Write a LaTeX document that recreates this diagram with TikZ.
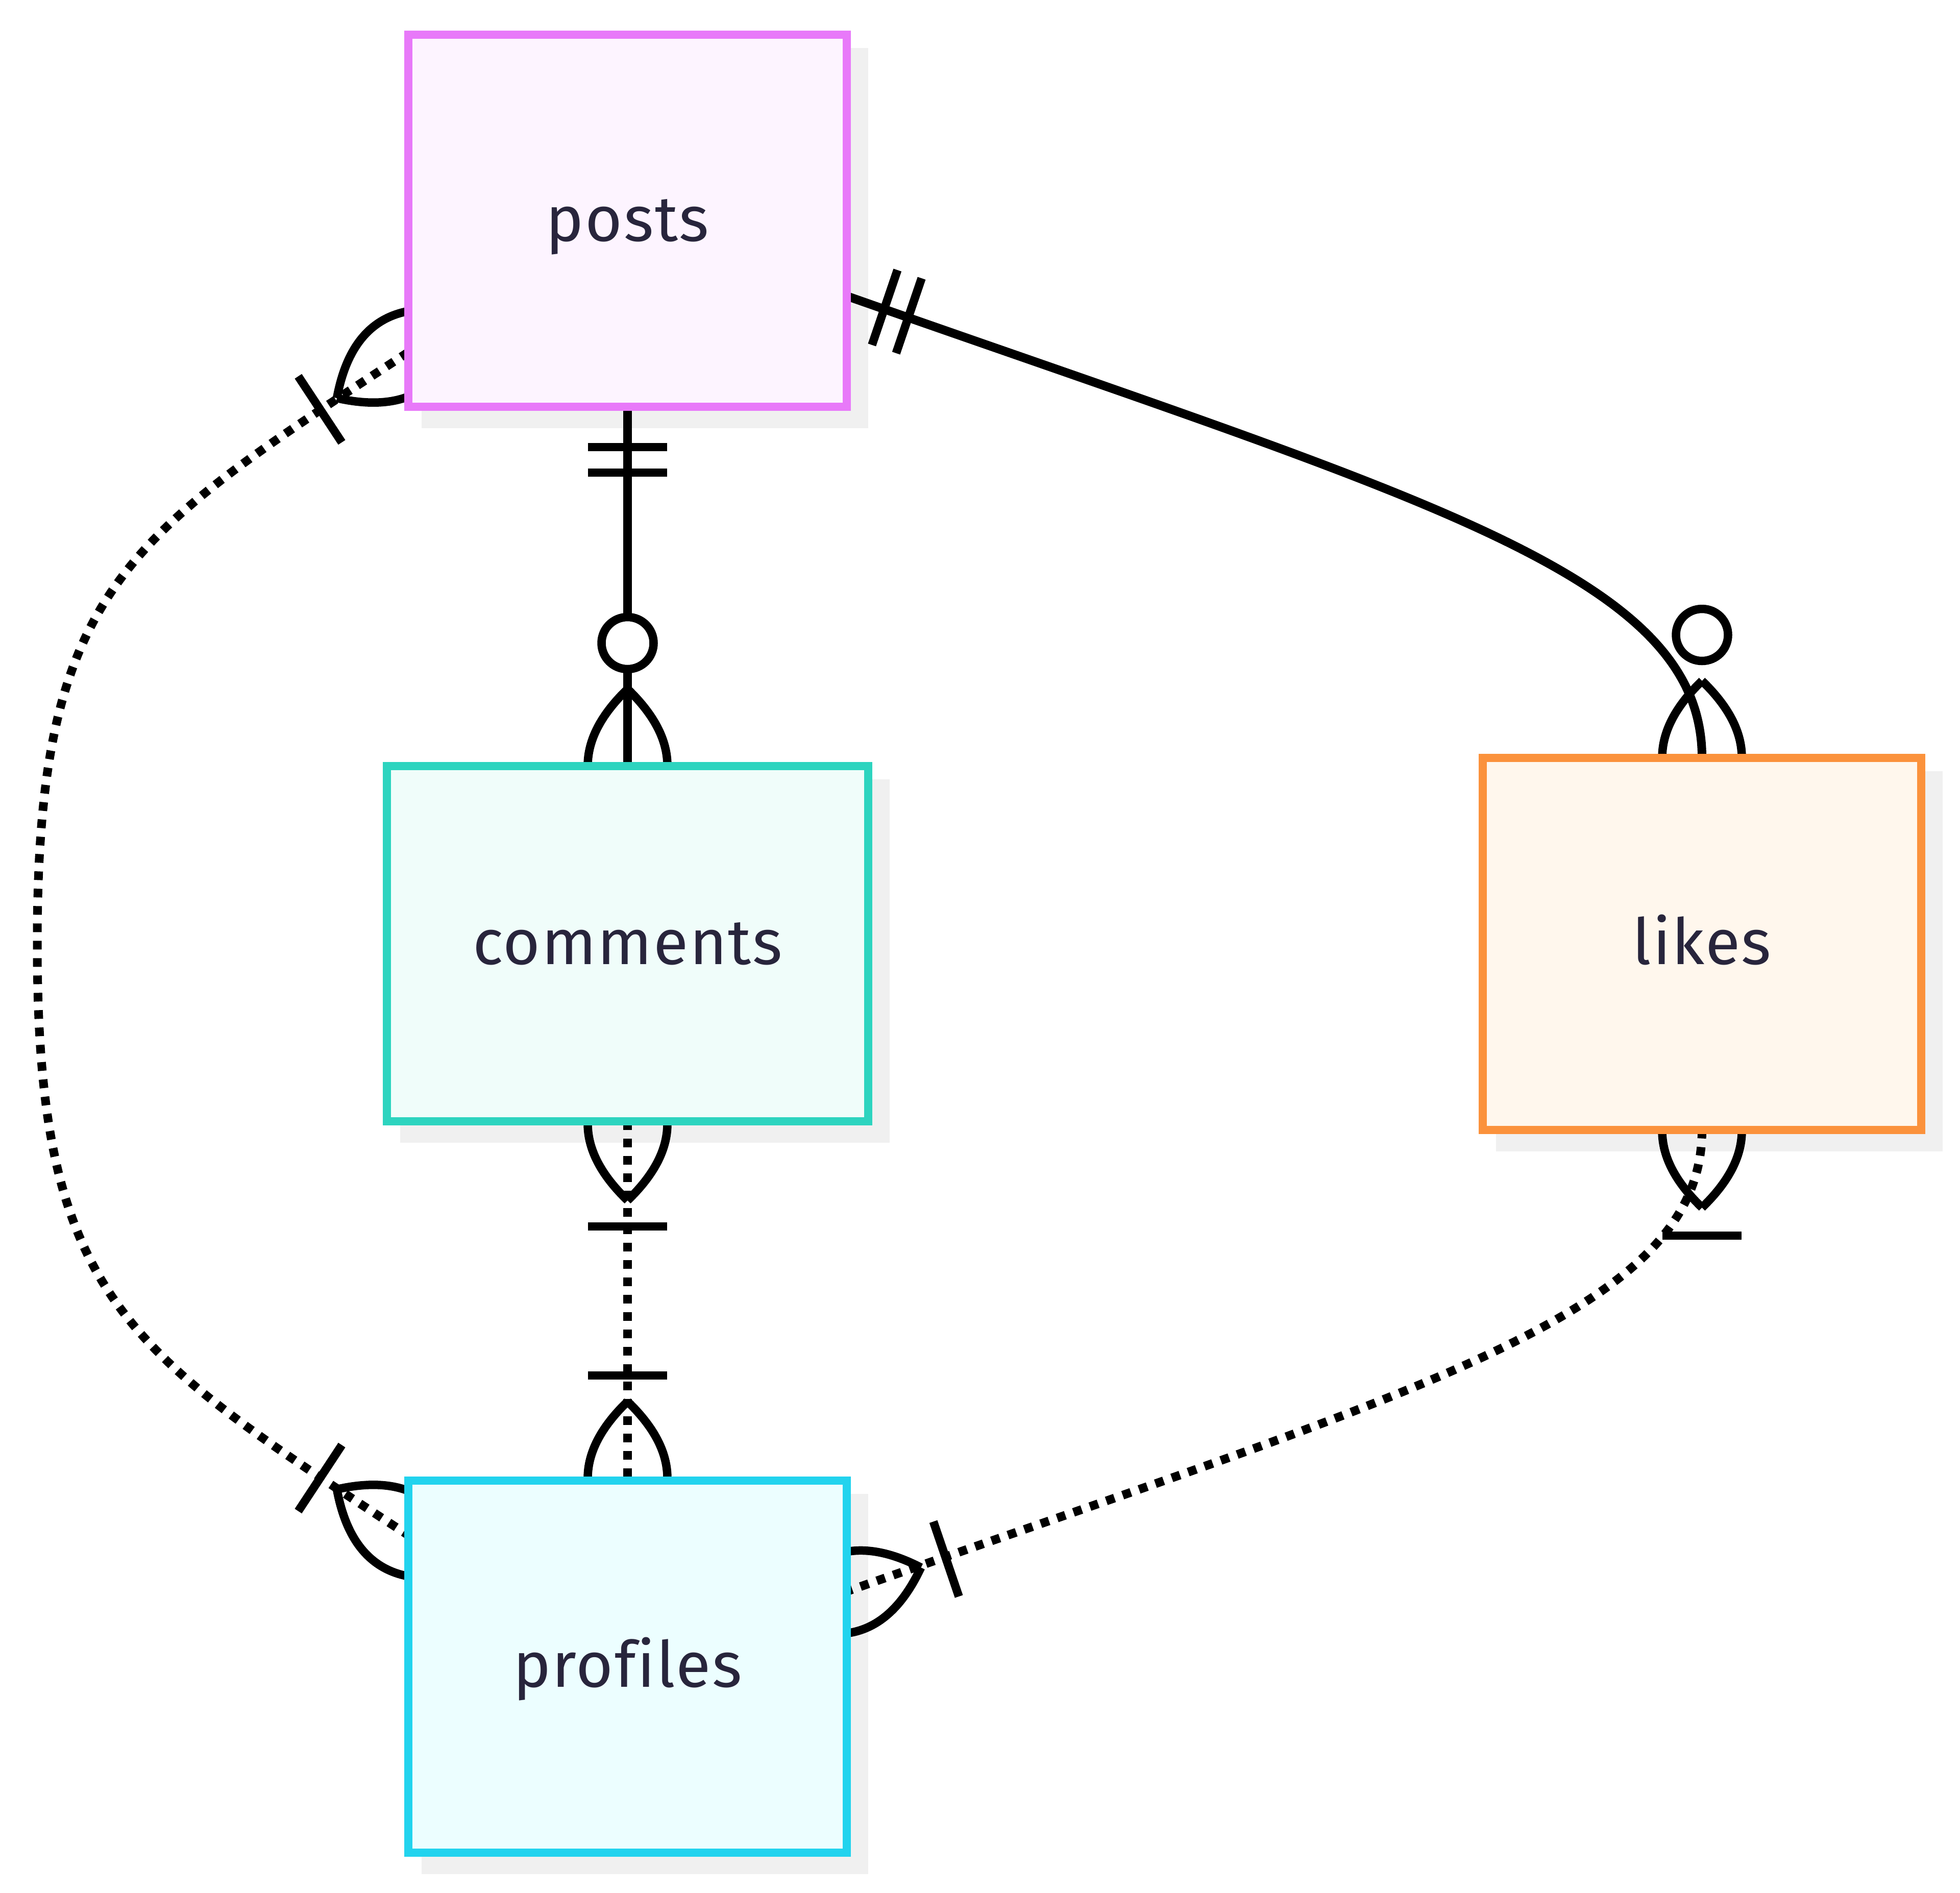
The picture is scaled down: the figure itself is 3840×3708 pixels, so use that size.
\documentclass[tikz,border=0pt]{standalone}
\usepackage{fontspec}
\setmainfont{Fira Sans}[LetterSpace=2,Ligatures=NoCommon]
\usetikzlibrary{calc}
\definecolor{postsline}{HTML}{E879F9}
\definecolor{postsfill}{HTML}{FDF4FF}
\definecolor{commline}{HTML}{2DD4BF}
\definecolor{commfill}{HTML}{F0FDFA}
\definecolor{likesline}{HTML}{FB923C}
\definecolor{likesfill}{HTML}{FFF7ED}
\definecolor{profline}{HTML}{22D3EE}
\definecolor{proffill}{HTML}{ECFEFF}
\definecolor{shadowcol}{HTML}{F0F0F0}
\definecolor{labelcol}{HTML}{28253C}
\pgfdeclarelayer{shadowlayer}
\pgfdeclarelayer{edgelayer}
\pgfsetlayers{shadowlayer,edgelayer,main}
\begin{document}
\begin{tikzpicture}[x=0.2pt,y=-0.2pt,
  entity/.style={draw, line width=3.2pt, rectangle, inner sep=0pt, outer sep=0pt,
    minimum width=171.8pt, minimum height=145.8pt, text=labelcol,
    font=\fontsize{25pt}{30pt}\selectfont, text height=16pt, text depth=0pt},
  rel/.style={line width=3.4pt, black},
  dotrel/.style={rel, dash pattern=on 3.4pt off 3.4pt},
  marker/.style={line width=3.3pt, black},
  lens/.pic={\draw[marker] (0,0) .. controls (100,104) and (200,104) .. (300,0) .. controls (200,-104) and (100,-104) .. (0,0);},
  onebar/.pic={\draw[marker] (0,-77.5) -- (0,77.5);}
]
\useasboundingbox (0,0) rectangle (3840,3708);

% entities
\node[entity, fill=postsfill, draw=postsline] (posts) at (1229.5,432.5) {posts};
\node[entity, fill=commfill, draw=commline, minimum width=188.6pt, minimum height=139.2pt] (comments) at (1229.5,1849) {comments};
\node[entity, fill=likesfill, draw=likesline] (likes) at (3334.5,1849) {likes};
\node[entity, fill=proffill, draw=profline] (profiles) at (1229.5,3265.5) {profiles};

% shadows
\begin{pgfonlayer}{shadowlayer}
  \fill[white] (0,0) rectangle (3840,3708);
  \foreach \n in {posts,comments,likes,profiles}
    \fill[shadowcol] ($(\n.north west)+(26,26)$) rectangle ($(\n.south east)+(42,42)$);
\end{pgfonlayer}

\begin{pgfonlayer}{edgelayer}
  % posts -- comments
  \draw[rel] (posts.south) -- (comments.north);
  \pic[rotate=-90] at (1229.5,876) {onebar};
  \pic[rotate=-90] at (1229.5,926) {onebar};
  \pic[rotate=-90] at (1229.5,1350) {lens};
  \draw[marker, fill=white] (1229.5,1260) circle[radius=51];

  % posts -- likes
  \draw[rel] ($(posts.south east)+(0,-217)$) .. controls (2803,982) and (3334.5,1127) .. (likes.north);
  \pic[rotate=-18.8] at (1733.3,602.5) {onebar};
  \pic[rotate=-18.8] at (1780.6,618.6) {onebar};
  \pic[rotate=-90] at (3334.5,1334) {lens};
  \draw[marker, fill=white] (3334.5,1244) circle[radius=51];

  % comments -- profiles
  \draw[dotrel] (comments.south) -- (profiles.north);
  \pic[rotate=90] at (1229.5,2352) {lens};
  \pic[rotate=90] at (1229.5,2403) {onebar};
  \pic[rotate=-90] at (1229.5,2746) {lens};
  \pic[rotate=-90] at (1229.5,2695) {onebar};

  % posts -- profiles
  \draw[dotrel] ($(posts.south west)+(0,-107)$) .. controls (249,1050.5) and (73,1150) .. (73,1849)
     .. controls (73,2548) and (249,2647.5) .. ($(profiles.north west)+(0,107)$);
  \pic[rotate=33.4] at (660,780) {lens};
  \pic[rotate=33.4] at (627,802) {onebar};
  \pic[rotate=-33.4] at (660,2918) {lens};
  \pic[rotate=-33.4] at (627,2896) {onebar};

  % likes -- profiles
  \draw[dotrel] (likes.south) .. controls (3334.5,2571) and (2803,2716) .. ($(profiles.north east)+(0,217)$);
  \pic[rotate=90] at (3334.5,2366) {lens};
  \pic[rotate=90] at (3334.5,2421) {onebar};
  \pic[rotate=198.8] at (1804.3,3071.3) {lens};
  \pic[rotate=198.8] at (1853.6,3054.6) {onebar};
\end{pgfonlayer}
\end{tikzpicture}
\end{document}
